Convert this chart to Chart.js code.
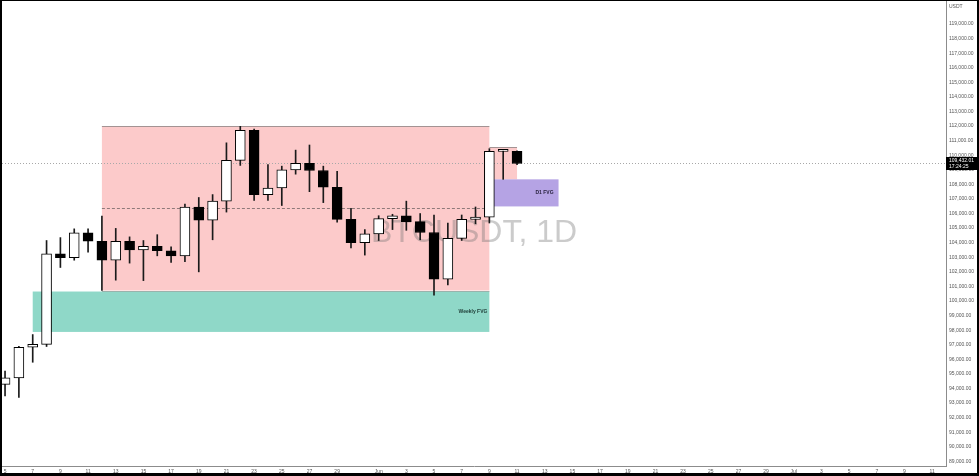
<!DOCTYPE html>
<html>
<head>
<meta charset="utf-8">
<script src="https://cdn.jsdelivr.net/npm/chart.js@4.4.1/dist/chart.umd.min.js"></script>
<style>
  html, body { margin: 0; padding: 0; background: #fff; overflow: hidden; }
  canvas { display: block; }
</style>
</head>
<body>
<canvas id="chart" width="979" height="476"></canvas>
<script>
// BTCUSDT daily candles
const candleDates = [
  "2025-05-05", "2025-05-06", "2025-05-07", "2025-05-08", "2025-05-09", "2025-05-10", "2025-05-11",
  "2025-05-12", "2025-05-13", "2025-05-14", "2025-05-15", "2025-05-16", "2025-05-17", "2025-05-18",
  "2025-05-19", "2025-05-20", "2025-05-21", "2025-05-22", "2025-05-23", "2025-05-24", "2025-05-25",
  "2025-05-26", "2025-05-27", "2025-05-28", "2025-05-29", "2025-05-30", "2025-05-31", "2025-06-01",
  "2025-06-02", "2025-06-03", "2025-06-04", "2025-06-05", "2025-06-06", "2025-06-07", "2025-06-08",
  "2025-06-09", "2025-06-10", "2025-06-11"
];
const opens = [
  94280, 94730, 96830, 97030, 103240, 102980, 104680, 104100, 102800, 104100, 103500, 103750, 103450,
  103100, 106450, 105550, 106850, 109650, 111700, 107300, 107750, 109000, 109450, 108950, 107800,
  105600, 104000, 104600, 105650, 105850, 105450, 104700, 101500, 104300, 105600, 105750, 110260, 110275
];
const highs = [
  95200, 96900, 97700, 104150, 104350, 104950, 104950, 105820, 104980, 104400, 104150, 104550, 103720,
  106650, 107100, 107300, 110850, 111980, 111800, 109350, 109250, 110350, 110700, 109250, 108900,
  106350, 104900, 105850, 105950, 106850, 106000, 105900, 105350, 105900, 106450, 110450, 110400, 110300
];
const lows = [
  93500, 93380, 95800, 96880, 102300, 102800, 103350, 100720, 101430, 102600, 101400, 103100, 102650,
  102700, 102000, 104200, 106100, 109300, 106900, 106900, 106550, 108700, 107500, 106750, 105400,
  103650, 103150, 104150, 104900, 104850, 104200, 100400, 101100, 104150, 105300, 105350, 108345, 109350
];
const closes = [
  94730, 96830, 97030, 103240, 102980, 104680, 104100, 102800, 104100, 103500, 103750, 103450, 103100,
  106450, 105550, 106850, 109650, 111700, 107300, 107750, 109000, 109450, 108950, 107800, 105600,
  104000, 104600, 105650, 105850, 105450, 104700, 101500, 104300, 105600, 105750, 110260, 110275, 109432.01
];

// axis ticks
const xTickDates = [
  "2025-05-05", "2025-05-07", "2025-05-09", "2025-05-11", "2025-05-13", "2025-05-15", "2025-05-17",
  "2025-05-19", "2025-05-21", "2025-05-23", "2025-05-25", "2025-05-27", "2025-05-29", "2025-06-01",
  "2025-06-03", "2025-06-05", "2025-06-07", "2025-06-09", "2025-06-11", "2025-06-13", "2025-06-15",
  "2025-06-17", "2025-06-19", "2025-06-21", "2025-06-23", "2025-06-25", "2025-06-27", "2025-06-29",
  "2025-07-01", "2025-07-03", "2025-07-05", "2025-07-07", "2025-07-09", "2025-07-11"
];
const xTickLabels = [
  "5", "7", "9", "11", "13", "15", "17", "19", "21", "23", "25", "27", "29", "Jun",
  "3", "5", "7", "9", "11", "13", "15", "17", "19", "21", "23", "25", "27", "29",
  "Jul", "3", "5", "7", "9", "11"
];
const priceTicks = [
  89000, 90000, 91000, 92000, 93000, 94000, 95000, 96000, 97000, 98000, 99000, 100000, 101000,
  102000, 103000, 104000, 105000, 106000, 107000, 108000, 109000, 110000, 111000, 112000, 113000,
  114000, 115000, 116000, 117000, 118000, 119000
];

// drawn zones: [from date, to date, bottom price, top price]
const rangeZone = ["2025-05-12", "2025-06-09", 100720, 111980];
const rangeTail = ["2025-06-09", "2025-06-11", 108345, 110530];
const weeklyFvg = ["2025-05-07", "2025-06-09", 97880, 100720];
const dailyFvg = ["2025-06-09", "2025-06-14", 106488, 108345];
const lastPrice = 109432.01;
const lastTime = "17:24:25";

const dayIndex = (d) => (Date.parse(d) - Date.parse(candleDates[0])) / 86400000;
const fmtPrice = (v) => v.toLocaleString("en-US", { minimumFractionDigits: 2, maximumFractionDigits: 2 });

Chart.defaults.font.family = "'Liberation Sans', Arial, sans-serif";
Chart.defaults.font.size = 5;
Chart.defaults.color = "#555";

const zonesPlugin = {
  id: "zones",
  beforeDraw(chart) {
    const ctx = chart.ctx;
    ctx.save();
    ctx.fillStyle = "#fff";
    ctx.fillRect(0, 0, chart.width, chart.height);
    ctx.restore();
  },
  beforeDatasetsDraw(chart) {
    const { ctx, chartArea: a, scales: { x, y } } = chart;
    const box = (z) => ({
      l: x.getPixelForValue(dayIndex(z[0])),
      r: x.getPixelForValue(dayIndex(z[1])),
      b: y.getPixelForValue(z[2]),
      t: y.getPixelForValue(z[3])
    });
    ctx.save();
    ctx.beginPath();
    ctx.rect(a.left, a.top, a.width, a.height);
    ctx.clip();

    // range box
    const rz = box(rangeZone);
    const rt = box(rangeTail);
    ctx.fillStyle = "#fccaca";
    ctx.fillRect(rz.l, rz.t, rz.r - rz.l, rz.b - rz.t);
    ctx.fillRect(rt.l, rt.t, rt.r - rt.l, rt.b - rt.t);
    ctx.strokeStyle = "#a39393";
    ctx.lineWidth = 1;
    ctx.beginPath();
    ctx.moveTo(rz.l, Math.round(rz.t) + 0.5); ctx.lineTo(rz.r, Math.round(rz.t) + 0.5);
    ctx.moveTo(rz.l, Math.round(rz.b) + 0.5); ctx.lineTo(rz.r, Math.round(rz.b) + 0.5);
    ctx.moveTo(rt.l, Math.round(rt.t) + 0.5); ctx.lineTo(rt.r, Math.round(rt.t) + 0.5);
    ctx.stroke();
    const mid = Math.round((rz.t + rz.b) / 2) + 0.5;
    ctx.setLineDash([3, 2]);
    ctx.strokeStyle = "#8f7a7a";
    ctx.beginPath();
    ctx.moveTo(rz.l, mid); ctx.lineTo(rz.r, mid);
    ctx.stroke();
    ctx.setLineDash([]);

    // weekly FVG
    const wf = box(weeklyFvg);
    ctx.fillStyle = "#8fd8c8";
    ctx.fillRect(wf.l, wf.t + 1, wf.r - wf.l, wf.b - wf.t - 1);
    ctx.fillStyle = "#1d3b35";
    ctx.font = "bold 5px 'Liberation Sans', Arial, sans-serif";
    ctx.textAlign = "right";
    ctx.textBaseline = "middle";
    ctx.fillText("Weekly FVG", wf.r - 2, (wf.t + wf.b) / 2);

    // daily FVG
    const df = box(dailyFvg);
    ctx.fillStyle = "#b5a3e4";
    ctx.fillRect(df.l, df.t, df.r - df.l, df.b - df.t);
    ctx.fillStyle = "#2a2340";
    ctx.fillText("D1 FVG", df.r - 5, (df.t + df.b) / 2);

    // last price line
    const py = Math.round(y.getPixelForValue(lastPrice)) + 0.5;
    ctx.strokeStyle = "#a8a8a8";
    ctx.setLineDash([1, 2]);
    ctx.beginPath();
    ctx.moveTo(a.left, py); ctx.lineTo(a.right, py);
    ctx.stroke();
    ctx.setLineDash([]);

    // watermark
    ctx.fillStyle = "rgba(110, 110, 110, 0.36)";
    ctx.font = "32px 'Liberation Sans', Arial, sans-serif";
    ctx.textAlign = "center";
    ctx.textBaseline = "middle";
    ctx.fillText("BTCUSDT, 1D", (a.left + a.right) / 2, (a.top + a.bottom) / 2);
    ctx.restore();
  },
  afterDraw(chart) {
    const { ctx, chartArea: a, scales: { y } } = chart;
    ctx.save();
    // last price label on the axis
    const py = y.getPixelForValue(lastPrice);
    ctx.fillStyle = "#000";
    ctx.fillRect(a.right, py - 6.5, chart.width - a.right, 13);
    ctx.fillStyle = "#fff";
    ctx.font = "5px 'Liberation Sans', Arial, sans-serif";
    ctx.textAlign = "left";
    ctx.textBaseline = "middle";
    ctx.fillText(fmtPrice(lastPrice), a.right + 3, py - 2.5);
    ctx.fillText(lastTime, a.right + 3, py + 3);
    // currency label
    ctx.fillStyle = "#555";
    ctx.fillText("USDT", a.right + 3, 7);
    // frame
    ctx.fillStyle = "#000";
    ctx.fillRect(0, 0, chart.width, 1);
    ctx.fillRect(0, 0, 2, chart.height);
    ctx.fillRect(chart.width - 2, 0, 2, chart.height);
    ctx.fillRect(0, chart.height - 3, chart.width, 3);
    ctx.restore();
  }
};

const bodyData = candleDates.map((d, i) => ({ x: dayIndex(d), y: [opens[i], closes[i]] }));
const wickData = candleDates.map((d, i) => ({ x: dayIndex(d), y: [lows[i], highs[i]] }));
const bodyColors = candleDates.map((d, i) => (closes[i] >= opens[i] ? "#ffffff" : "#000000"));

new Chart(document.getElementById("chart").getContext("2d"), {
  type: "bar",
  data: {
    datasets: [
      {
        label: "body",
        data: bodyData,
        backgroundColor: bodyColors,
        borderColor: "#000",
        borderWidth: 1,
        borderSkipped: false,
        barThickness: 10,
        minBarLength: 2,
        grouped: false,
        order: 0
      },
      {
        label: "wick",
        data: wickData,
        backgroundColor: "#1a1a1a",
        barThickness: 1,
        grouped: false,
        order: 1
      }
    ]
  },
  options: {
    responsive: false,
    animation: false,
    devicePixelRatio: 1,
    layout: { padding: { left: 2, top: 1, right: 2, bottom: 3 } },
    plugins: { legend: { display: false }, tooltip: { enabled: false } },
    scales: {
      x: {
        type: "linear",
        min: -0.22,
        max: 68,
        offset: false,
        bounds: "data",
        grid: { display: false, drawTicks: false },
        border: { color: "#8c8c8c" },
        ticks: {
          padding: 3,
          autoSkip: false,
          maxRotation: 0,
          callback: (v, i) => xTickLabels[i]
        },
        afterBuildTicks: (s) => { s.ticks = xTickDates.map((d) => ({ value: dayIndex(d) })); },
        afterFit: (s) => { s.height = 7; s.paddingLeft = 0; s.paddingRight = 0; }
      },
      y: {
        position: "right",
        min: 88685,
        max: 120577,
        bounds: "data",
        grid: { display: false, drawTicks: false },
        border: { color: "#8c8c8c" },
        ticks: {
          padding: 3,
          callback: (v) => fmtPrice(v)
        },
        afterBuildTicks: (s) => { s.ticks = priceTicks.map((v) => ({ value: v })); },
        afterFit: (s) => { s.width = 31; s.paddingTop = 0; s.paddingBottom = 0; }
      }
    }
  },
  plugins: [zonesPlugin]
});
</script>
</body>
</html>
